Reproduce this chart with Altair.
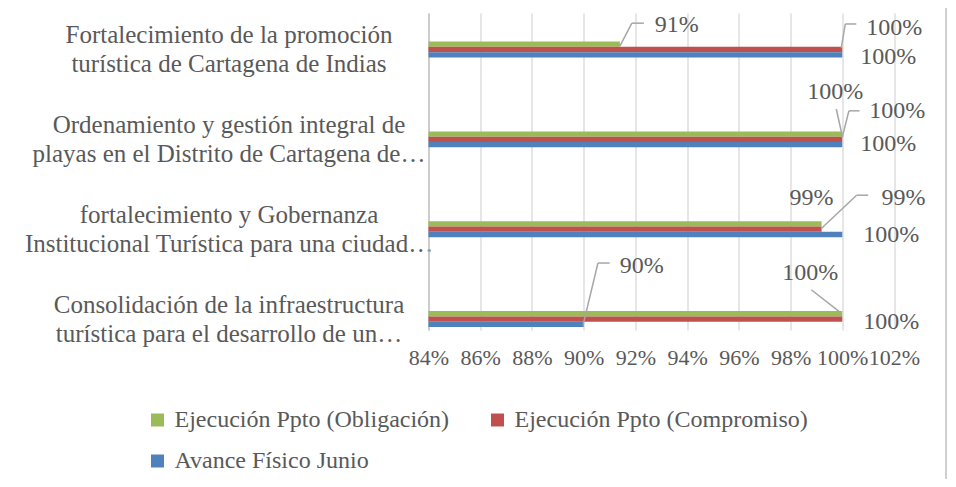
import json
import altair as alt
import pandas as pd

# ---------------- data ----------------
categories = [
    "Fortalecimiento de la promoción\nturística de Cartagena de Indias",
    "Ordenamiento y gestión integral de\nplayas en el Distrito de Cartagena de…",
    "fortalecimiento y Gobernanza\nInstitucional Turística para una ciudad…",
    "Consolidación de la infraestructura\nturística para el desarrollo de un…",
]
series = ["Ejecución Ppto (Obligación)", "Ejecución Ppto (Compromiso)", "Avance Físico Junio"]
colors = ["#9BBB59", "#C0504D", "#4F81BD"]
obligacion = [0.914, 1.00, 0.992, 1.00]
compromiso = [1.00, 1.00, 0.992, 1.00]
avance = [1.00, 1.00, 1.00, 0.90]
x_ticks = [0.84, 0.86, 0.88, 0.90, 0.92, 0.94, 0.96, 0.98, 1.00, 1.02]

# ---------------- layout / style ----------------
W, H = 465.5, 317
PAD_L, PAD_T, PAD_R, PAD_B = 420.5, 5, 54, 149
XMIN, XMAX = 0.84, 1.02
YMIN, YMAX = 0.094, 3.622
PPX = W / (XMAX - XMIN)
PPY = H / (YMAX - YMIN)
BAR_PX = 5.3
FONT = "Liberation Serif"
TXT = "#595959"

# data-label placement: pixel offsets from the bar end (cat, series)
label_off = {
    (0, 0): (57, -19.5), (0, 1): (52, -21.5), (0, 2): (46, 2),
    (1, 0): (-7, -42), (1, 1): (55, -28.5), (1, 2): (46, -1),
    (2, 0): (-10, -26), (2, 1): (82, -31), (2, 2): (49, 1),
    (3, 0): (-32, -41), (3, 1): (49, 3), (3, 2): (58, -58),
}
leader_pts = {
    (0, 0): [(0, 2), (12, -21), (24, -21)],
    (0, 1): [(-1, -1.5), (3, -25.5), (14, -25.5)],
    (1, 0): [(0, 2), (-6, -25)],
    (1, 1): [(0, -2), (6.6, -28.5), (17.3, -28.5)],
    (2, 1): [(0, -1), (35, -34), (46.6, -34)],
    (3, 0): [(-31, -24), (-2, -1.3)],
    (3, 2): [(-0.7, 1), (14.3, -61.3), (26, -61.3)],
}

values = [obligacion, compromiso, avance]
rows, labs, segs = [], [], []
for c in range(len(categories)):
    for s in range(len(series)):
        v = values[s][c]
        pos = c + 0.5 + (s - 1) * BAR_PX / PPY
        rows.append({"series": series[s], "value": v, "base": XMIN,
                     "y0": pos - BAR_PX / PPY / 2, "y1": pos + BAR_PX / PPY / 2})
        dx, dy = label_off[(c, s)]
        labs.append({"txt": f"{round(v * 100):.0f}%", "lx": v + dx / PPX, "ly": pos + dy / PPY})
        pts = leader_pts.get((c, s), [])
        for (ax, ay), (bx, by) in zip(pts[:-1], pts[1:]):
            segs.append({"xa": v + ax / PPX, "ya": pos + ay / PPY,
                         "xb": v + bx / PPX, "yb": pos + by / PPY})

bars_df = pd.DataFrame(rows)
labs_df = pd.DataFrame(labs)
segs_df = pd.DataFrame(segs)

xscale = alt.Scale(domain=[XMIN, XMAX], nice=False, zero=False)
yscale = alt.Scale(domain=[YMIN, YMAX], nice=False, zero=False, reverse=True)

label_expr = "split(" + json.dumps(categories, ensure_ascii=False) + "[floor(datum.value)], '\\n')"

x_axis = alt.Axis(values=x_ticks, format=".0%", grid=True, gridColor="#D9D9D9",
                  gridWidth=1.3, ticks=False, domain=False, labelFont=FONT,
                  labelFontSize=22, labelColor=TXT, labelPadding=17,
                  labelOverlap=False, labelFlush=False, title=None)
y_axis = alt.Axis(values=[0.5, 1.5, 2.5, 3.5], labelExpr=label_expr, grid=False,
                  ticks=False, tickSize=0, domain=True, domainColor="#BFBFBF",
                  domainWidth=1.3, labelAlign="center", labelBaseline="middle",
                  labelPadding=200, labelOffset=-14.5, labelFont=FONT, labelFontSize=25,
                  labelLineHeight=29, labelColor=TXT, labelLimit=1000, title=None)

bars = alt.Chart(bars_df).mark_rect().encode(
    x=alt.X("value:Q", scale=xscale, axis=x_axis, title=None),
    x2="base:Q",
    y=alt.Y("y0:Q", scale=yscale, axis=y_axis, title=None),
    y2="y1:Q",
    color=alt.Color("series:N", scale=alt.Scale(domain=series, range=colors),
                    sort=series,
                    legend=alt.Legend(orient="none", legendX=-283, legendY=395, columns=2,
                                      direction="horizontal", title=None,
                                      symbolType="square", symbolSize=169,
                                      symbolStrokeWidth=0, labelFont=FONT,
                                      labelFontSize=24, labelColor=TXT, labelOffset=5,
                                      labelLimit=1000,
                                      rowPadding=17, columnPadding=36, padding=0)),
)

leaders = alt.Chart(segs_df).mark_rule(color="#A6A6A6", strokeWidth=1.5).encode(
    x=alt.X("xa:Q", scale=xscale, axis=x_axis, title=None),
    x2="xb:Q",
    y=alt.Y("ya:Q", scale=yscale, axis=y_axis, title=None),
    y2="yb:Q",
)

texts = alt.Chart(labs_df).mark_text(font=FONT, fontSize=24, color=TXT,
                                     align="center", baseline="middle").encode(
    x=alt.X("lx:Q", scale=xscale, axis=x_axis, title=None),
    y=alt.Y("ly:Q", scale=yscale, axis=y_axis, title=None),
    text="txt:N",
)

# chart-area frame edge on the right
frame = alt.Chart(pd.DataFrame({"k": [0]})).mark_rule(color="#D0D0D0", strokeWidth=2).encode(
    x=alt.value(W + PAD_R - 2), y=alt.value(-PAD_T), y2=alt.value(H + PAD_B),
)

chart = alt.layer(bars, leaders, texts, frame).properties(
    width=W, height=H,
    padding={"left": PAD_L, "top": PAD_T, "right": PAD_R, "bottom": PAD_B},
    autosize=alt.AutoSizeParams(type="none"),
    background="white",
).configure_view(stroke=None)

chart.save("out.html", embed_options={"renderer": "svg", "actions": False})
